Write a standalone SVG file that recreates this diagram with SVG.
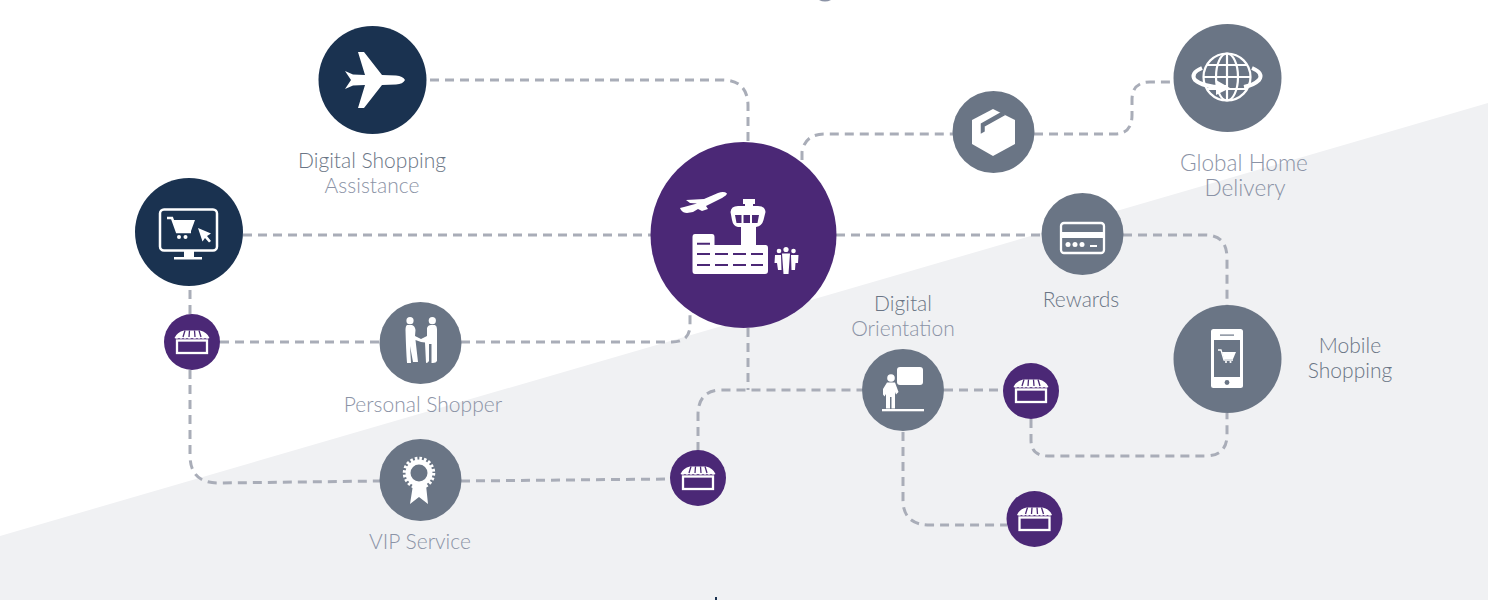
<svg xmlns="http://www.w3.org/2000/svg" width="1488" height="600" viewBox="0 0 1488 600">
<style>
.c{fill:none;stroke:#a9adb8;stroke-width:3;stroke-dasharray:9 6}
.navy{fill:#1a3250}.grey{fill:#6a7585}.purple{fill:#4b2876}
.w{fill:#fff}.ws{fill:none;stroke:#fff}
text{font-family:Lato,"Liberation Sans",sans-serif;font-weight:300;font-size:21px;text-anchor:middle;fill:#6a7585}
.l{fill:#8b93a6}
.g{font-size:22.600px}
</style>
<defs>
<g id="shop">
<path class="w" d="M-17.500,-4 Q-15,-10 -8,-11.500 H8 Q15,-10 17.500,-4 Q15,-2.500 13,-4 Q11,-2.500 9,-4 Q7,-2.500 5,-4 Q3,-2.500 0,-4 Q-3,-2.500 -5,-4 Q-7,-2.500 -9,-4 Q-11,-2.500 -13,-4 Q-15,-2.500 -17.500,-4Z"/>
<path d="M-7,-11.500 L-9,-5 M-2.500,-11.500 L-3,-5 M2.500,-11.500 L3,-5 M7,-11.500 L9,-5" stroke="#4b2876" stroke-width="1.300" fill="none"/>
<rect class="ws" x="-15" y="-1.500" width="30" height="12.500" stroke-width="2.300"/>
</g>
</defs>
<rect width="1488" height="600" fill="#fff"/>
<polygon points="0,536 1488,103 1488,600 0,600" fill="#f0f1f3"/>
<path d="M819,0 Q825,3 831,0Z" fill="#8b93a6"/>
<rect x="715" y="597" width="2" height="3" fill="#1a3250"/>
<g id="connectors">
<path class="c" d="M430,80 H722 Q748,80 748,106 V142"/>
<path class="c" d="M243,235 H651"/>
<path class="c" d="M190,290 V314"/>
<path class="c" d="M190,370 V455 Q190,483 218,483 L380,481"/>
<path class="c" d="M220,342 H380"/>
<path class="c" d="M461,342 H672 Q690,342 690,325 V312"/>
<path class="c" d="M461,481 L670,479"/>
<path class="c" d="M698,451 V415 Q698,390 722,390 H862"/>
<path class="c" d="M748,328 V390"/>
<path class="c" d="M944,390 H1003"/>
<path class="c" d="M903,432 V500 Q903,525 930,525 H1007"/>
<path class="c" d="M1031,419 V440 Q1031,456 1048,456 H1205 Q1227,456 1227,435 V413"/>
<path class="c" d="M836,235 H1042"/>
<path class="c" d="M1123,235 H1205 Q1227,235 1227,258 V306"/>
<path class="c" d="M802,160 V152 Q805,134 825,134 H953"/>
<path class="c" d="M1034,134 H1115 Q1132,134 1132,115 V100 Q1132,82 1150,82 H1174"/>
</g>
<g id="node-assistance">
<circle class="navy" cx="372.500" cy="80" r="54"/>
<path class="w" d="M405,80 Q403,76 396,75.500 L382,75 L364,52 L358,52 L365,75 L353,74.500 L345,71 L351,80 L345,89 L353,85.500 L365,85 L358,108 L364,108 L382,85 L396,84.500 Q403,84 405,80Z"/>
<text x="372" y="168">Digital Shopping</text>
<text class="l" x="372" y="193">Assistance</text>
</g>
<g id="node-online">
<circle class="navy" cx="189" cy="232" r="54"/>
<rect class="ws" x="160" y="209.500" width="57" height="41" rx="4" stroke-width="2.500"/>
<path class="w" d="M184,251 H194 V257 H202 V259.500 H174 V257 H184Z"/>
<path class="ws" d="M167,218 H172 L177,232 H191" stroke-width="2.500"/>
<path class="w" d="M173,220 H195 L191,231 H177Z"/>
<circle class="w" cx="179" cy="237" r="2"/><circle class="w" cx="185.500" cy="237" r="2"/>
<path class="w" d="M198,228 L211,233.500 L207,236 L211,241 L209,242.500 L205,238 L202.500,241.500Z"/>
</g>
<g id="node-hub">
<circle class="purple" cx="743.500" cy="235" r="93"/>
<path class="w" d="M727,193.500 Q724,191 718,193 L704,199 L686,200 L690,203 L697,203.500 L684,207 L680,208 L681,210 Q683,213 687,213 L693,212 L698,209 L702,211 L708,209 L706,206 L722,198 Q727,195 727,193.500Z"/>
<path class="w" d="M695,234 H712 Q714.500,234 714.500,237 V245 H741 V227 H738 Q733,226 732,220 L730.500,212 Q731,206 738,206 H745 V204 H743 V199 H755 V204 H753 V206 H758 Q765,206 765.500,212 L763.500,220 Q762,226 756,227 V245 H765.500 Q768,245 768,248 V271 Q768,274 765,274 H695 Q692.500,274 692.500,271 V237 Q692.500,234 695,234Z"/>
<path d="M735,215 H741.500 V223 H736.500Z M743.500,215 H750 V223 H743.500Z M752,215 H759 L757.500,223 H752Z" fill="#4b2876"/>
<path d="M697,243.800 H710 M697,254 H710 M715,254 H728 M733,254 H746 M751,254 H763 M697,265 H710 M715,265 H728 M733,265 H746 M751,265 H763" stroke="#4b2876" stroke-width="2" fill="none"/>
<circle class="w" cx="779" cy="251" r="2.300"/><circle class="w" cx="786" cy="249.500" r="2.600"/><circle class="w" cx="793.500" cy="251" r="2.300"/>
<path class="w" d="M775,255 H781 L781.500,270 H778 L777,263 H774.500Z M782,253.500 H790 L788.500,274 H783.500Z M791,255 H798.500 L798,263 H795.500 L795,270 H791.500Z"/>
</g>
<g id="node-box">
<circle class="grey" cx="993.500" cy="132" r="41"/>
<path class="w" d="M993,109 L1015,120 V144 L993,156 L972,144 V120Z"/>
<path d="M1001,113 L981.500,124 V132.500 L984,131 V126 L1004,115Z" fill="#6a7585" stroke="#6a7585" stroke-width="1.500"/>
</g>
<g id="node-global">
<circle class="grey" cx="1227.500" cy="78" r="54"/>
<g class="ws" stroke-width="2.200">
<circle cx="1227" cy="77" r="23.500"/>
<ellipse cx="1227" cy="77" rx="11" ry="23.500"/>
<path d="M1227,53.500 V100.500 M1203.500,77 H1250.500 M1207,65 H1247 M1207,89 H1247"/>
</g>
<path class="ws" d="M1202,68 Q1190,73 1195,80 Q1204,88 1228,87 M1252,68 Q1264,73 1259,80 Q1254,85 1244,87" stroke-width="4"/>
<path class="w" d="M1216,80 L1230,88 L1216,95Z"/>
<text class="l g" x="1244" y="171">Global Home</text>
<text class="l g" x="1245" y="196">Delivery</text>
</g>
<g id="node-rewards">
<circle class="grey" cx="1082.500" cy="234" r="41"/>
<rect class="ws" x="1061" y="223" width="43" height="30" rx="3" stroke-width="2.300"/>
<rect class="w" x="1061" y="232" width="43" height="6"/>
<circle class="w" cx="1068" cy="244.500" r="2.500"/><circle class="w" cx="1075" cy="244.500" r="2.500"/><circle class="w" cx="1082" cy="244.500" r="2.500"/>
<rect class="w" x="1090" y="245" width="7" height="2"/>
<text x="1081" y="307">Rewards</text>
</g>
<g id="node-mobile">
<circle class="grey" cx="1227.500" cy="359" r="54"/>
<rect class="w" x="1211" y="329" width="32" height="59" rx="2.500"/>
<rect class="grey" x="1214" y="340" width="26" height="37"/>
<rect class="grey" x="1220" y="334.500" width="14" height="1.200"/>
<circle class="grey" cx="1227" cy="382.500" r="2.400"/>
<path class="ws" d="M1218,350 H1221 L1224,360 H1233" stroke-width="1.300"/>
<path class="w" d="M1222,352 H1236 L1233,359 H1224Z"/>
<circle class="w" cx="1226" cy="362" r="1.100"/><circle class="w" cx="1230.500" cy="362" r="1.100"/>
<text x="1350" y="353">Mobile</text>
<text x="1350" y="378">Shopping</text>
</g>
<g id="node-orientation">
<circle class="grey" cx="903" cy="390" r="41"/>
<rect class="w" x="897" y="367" width="26" height="18" rx="3"/>
<circle class="w" cx="891" cy="378" r="3.800"/>
<path class="w" d="M887,382.500 H895 L898.500,392 L896,394.500 L895,392 V408.500 H891.500 V397 H890 V408.500 H886 V394 L884.500,396.500 L883,394.500 V389Z"/>
<rect class="w" x="882" y="409" width="42" height="2.300"/>
<text x="903" y="311">Digital</text>
<text class="l" x="903" y="336">Orientation</text>
</g>
<g id="node-shopper">
<circle class="grey" cx="420.500" cy="343" r="41"/>
<circle class="w" cx="410" cy="320.700" r="3.600"/><circle class="w" cx="432.300" cy="320.700" r="3.600"/>
<path class="w" d="M407,325 H412 Q415,326 415.500,330 L415,336 L421,339 L427,336 V328 Q428,325 431,325 H435 Q437,326 437,329 V361 Q436,363 433,363 H431.500 V344 H429 V361 Q428,363 426,363 L425,342.500 L421,342 L415.500,340 L418,362 H413 L410,346 L411,363 H407 Q406,350 405.500,330 Q405.500,326 407,325Z"/>
<text class="l" x="423" y="412">Personal Shopper</text>
</g>
<g id="node-vip">
<circle class="grey" cx="420.500" cy="480" r="41"/>
<path class="w" d="M413,485 H426 L428,504 L419,497 L410,504Z"/>
<circle class="ws" cx="419" cy="473" r="11" stroke-width="5"/>
<circle class="ws" cx="419" cy="473" r="14.500" stroke-width="3.500" stroke-dasharray="2.600 1.950"/>
<text class="l" x="420" y="549">VIP Service</text>
</g>
<g id="shop-1"><circle class="purple" cx="192" cy="342" r="28"/><use href="#shop" x="192" y="342"/></g>
<g id="shop-2"><circle class="purple" cx="698" cy="478" r="28"/><use href="#shop" x="698" y="478"/></g>
<g id="shop-3"><circle class="purple" cx="1031" cy="391" r="28"/><use href="#shop" x="1031" y="391"/></g>
<g id="shop-4"><circle class="purple" cx="1034.500" cy="519" r="28"/><use href="#shop" x="1034.500" y="519"/></g>
</svg>
